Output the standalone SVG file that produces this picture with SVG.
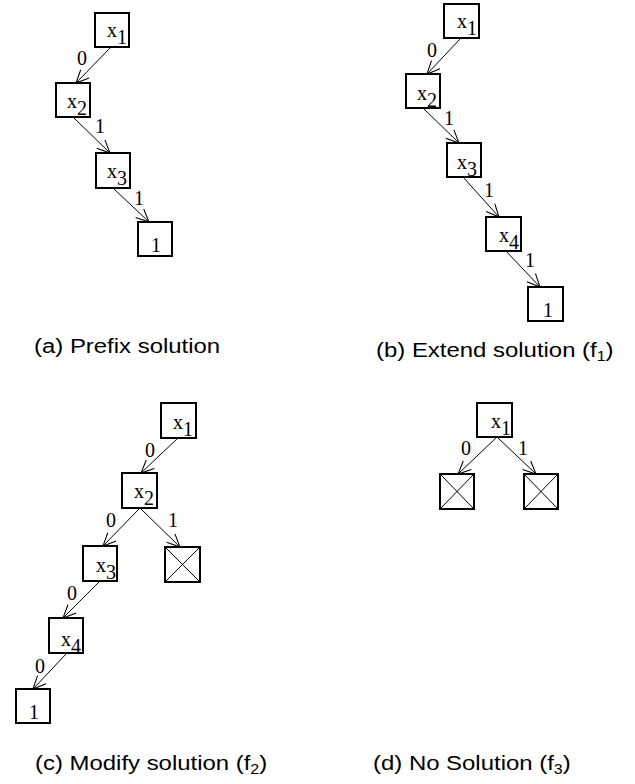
<svg xmlns="http://www.w3.org/2000/svg" width="635" height="784" viewBox="0 0 635 784">
  <style>
    .box { fill: #fff; stroke: #000; stroke-width: 2; }
    .cross { fill: none; stroke: #000; stroke-width: 1; }
    .edge { fill: none; stroke: #000; stroke-width: 1; marker-end: url(#arr); }
    .lbl { font-family: "Liberation Serif", "Times New Roman", serif; font-size: 20px; fill: #000; }
    .cap { font-family: "Liberation Sans", Arial, sans-serif; font-size: 21px; fill: #000; }
    .sub { font-size: 14px; }
  </style>
  <defs>
    <marker id="arr" markerUnits="userSpaceOnUse" markerWidth="16" markerHeight="16" viewBox="-1 -7 15 14" refX="12" refY="0" orient="auto">
      <path d="M0,-5.5 L12,0 L0,5.5" fill="none" stroke="#000" stroke-width="1"/>
    </marker>
  </defs>

  <!-- connectors -->
  <g id="connectors">
    <!-- (a) -->
    <line class="edge" x1="111" y1="47" x2="76" y2="83"/>
    <line class="edge" x1="73" y1="117" x2="110" y2="153"/>
    <line class="edge" x1="113" y1="188" x2="149" y2="222"/>
    <!-- (b) -->
    <line class="edge" x1="461" y1="38" x2="427" y2="74"/>
    <line class="edge" x1="423" y1="108" x2="459" y2="143"/>
    <line class="edge" x1="463" y1="177" x2="499" y2="217"/>
    <line class="edge" x1="506" y1="251" x2="540" y2="287"/>
    <!-- (c) -->
    <line class="edge" x1="178" y1="438" x2="141" y2="473"/>
    <line class="edge" x1="140" y1="508" x2="103" y2="546"/>
    <line class="edge" x1="140" y1="508" x2="180" y2="547"/>
    <line class="edge" x1="100" y1="581" x2="63" y2="618"/>
    <line class="edge" x1="67" y1="653" x2="33" y2="689"/>
    <!-- (d) -->
    <line class="edge" x1="497" y1="437" x2="458" y2="474"/>
    <line class="edge" x1="497" y1="437" x2="536" y2="474"/>

    <!-- edge labels -->
    <text class="lbl" x="77" y="65">0</text>
    <text class="lbl" x="95" y="133">1</text>
    <text class="lbl" x="134" y="205">1</text>
    <text class="lbl" x="427" y="57">0</text>
    <text class="lbl" x="444" y="125">1</text>
    <text class="lbl" x="484" y="197">1</text>
    <text class="lbl" x="525" y="267">1</text>
    <text class="lbl" x="145" y="457">0</text>
    <text class="lbl" x="106" y="527">0</text>
    <text class="lbl" x="168" y="527">1</text>
    <text class="lbl" x="67" y="600">0</text>
    <text class="lbl" x="35" y="673">0</text>
    <text class="lbl" x="461" y="455">0</text>
    <text class="lbl" x="518" y="455">1</text>
  </g>

  <!-- (a) Prefix solution -->
  <g id="a-x1"><rect class="box" x="95" y="13" width="34" height="34"/><text class="lbl" x="107" y="37">x<tspan dy="7">1</tspan></text></g>
  <g id="a-x2"><rect class="box" x="56" y="83" width="34" height="34"/><text class="lbl" x="67" y="108">x<tspan dy="7">2</tspan></text></g>
  <g id="a-x3"><rect class="box" x="96" y="153" width="34" height="35"/><text class="lbl" x="107" y="178">x<tspan dy="7">3</tspan></text></g>
  <g id="a-one"><rect class="box" x="138" y="222" width="34" height="34"/><text class="lbl" x="151" y="252">1</text></g>

  <!-- (b) Extend solution -->
  <g id="b-x1"><rect class="box" x="444" y="4" width="35" height="34"/><text class="lbl" x="457" y="28">x<tspan dy="7">1</tspan></text></g>
  <g id="b-x2"><rect class="box" x="406" y="74" width="34" height="34"/><text class="lbl" x="417" y="100">x<tspan dy="7">2</tspan></text></g>
  <g id="b-x3"><rect class="box" x="447" y="143" width="34" height="34"/><text class="lbl" x="457" y="169">x<tspan dy="7">3</tspan></text></g>
  <g id="b-x4"><rect class="box" x="486" y="217" width="35" height="34"/><text class="lbl" x="499" y="242">x<tspan dy="7">4</tspan></text></g>
  <g id="b-one"><rect class="box" x="528" y="287" width="35" height="34"/><text class="lbl" x="543" y="317">1</text></g>

  <!-- (c) Modify solution -->
  <g id="c-x1"><rect class="box" x="161" y="403" width="35" height="35"/><text class="lbl" x="173" y="429">x<tspan dy="7">1</tspan></text></g>
  <g id="c-x2"><rect class="box" x="122" y="473" width="35" height="35"/><text class="lbl" x="134" y="498">x<tspan dy="7">2</tspan></text></g>
  <g id="c-x3"><rect class="box" x="83" y="546" width="34" height="35"/><text class="lbl" x="96" y="572">x<tspan dy="7">3</tspan></text></g>
  <g id="c-x4"><rect class="box" x="49" y="618" width="34" height="35"/><text class="lbl" x="61" y="646">x<tspan dy="7">4</tspan></text></g>
  <g id="c-one"><rect class="box" x="16" y="689" width="34" height="34"/><text class="lbl" x="29" y="719">1</text></g>
  <g id="c-fail"><rect class="box" x="165" y="547" width="35" height="35"/><path class="cross" d="M165,547 L200,582 M200,547 L165,582"/></g>

  <!-- (d) No Solution -->
  <g id="d-x1"><rect class="box" x="477" y="403" width="35" height="34"/><text class="lbl" x="491" y="428">x<tspan dy="7">1</tspan></text></g>
  <g id="d-fail0"><rect class="box" x="440" y="474" width="34" height="35"/><path class="cross" d="M440,474 L474,509 M474,474 L440,509"/></g>
  <g id="d-fail1"><rect class="box" x="524" y="474" width="34" height="35"/><path class="cross" d="M524,474 L558,509 M558,474 L524,509"/></g>

  <!-- captions (slightly widened sans text) -->
  <g id="captions">
    <text class="cap" transform="translate(34,353) scale(1.14,1)">(a) Prefix solution</text>
    <text class="cap" transform="translate(376,357) scale(1.14,1)">(b) Extend solution (f<tspan class="sub" dy="4">1</tspan><tspan dy="-4">)</tspan></text>
    <text class="cap" transform="translate(35,770) scale(1.14,1)">(c) Modify solution (f<tspan class="sub" dy="4">2</tspan><tspan dy="-4">)</tspan></text>
    <text class="cap" transform="translate(373,770) scale(1.14,1)">(d) No Solution (f<tspan class="sub" dy="4">3</tspan><tspan dy="-4">)</tspan></text>
  </g>
</svg>
